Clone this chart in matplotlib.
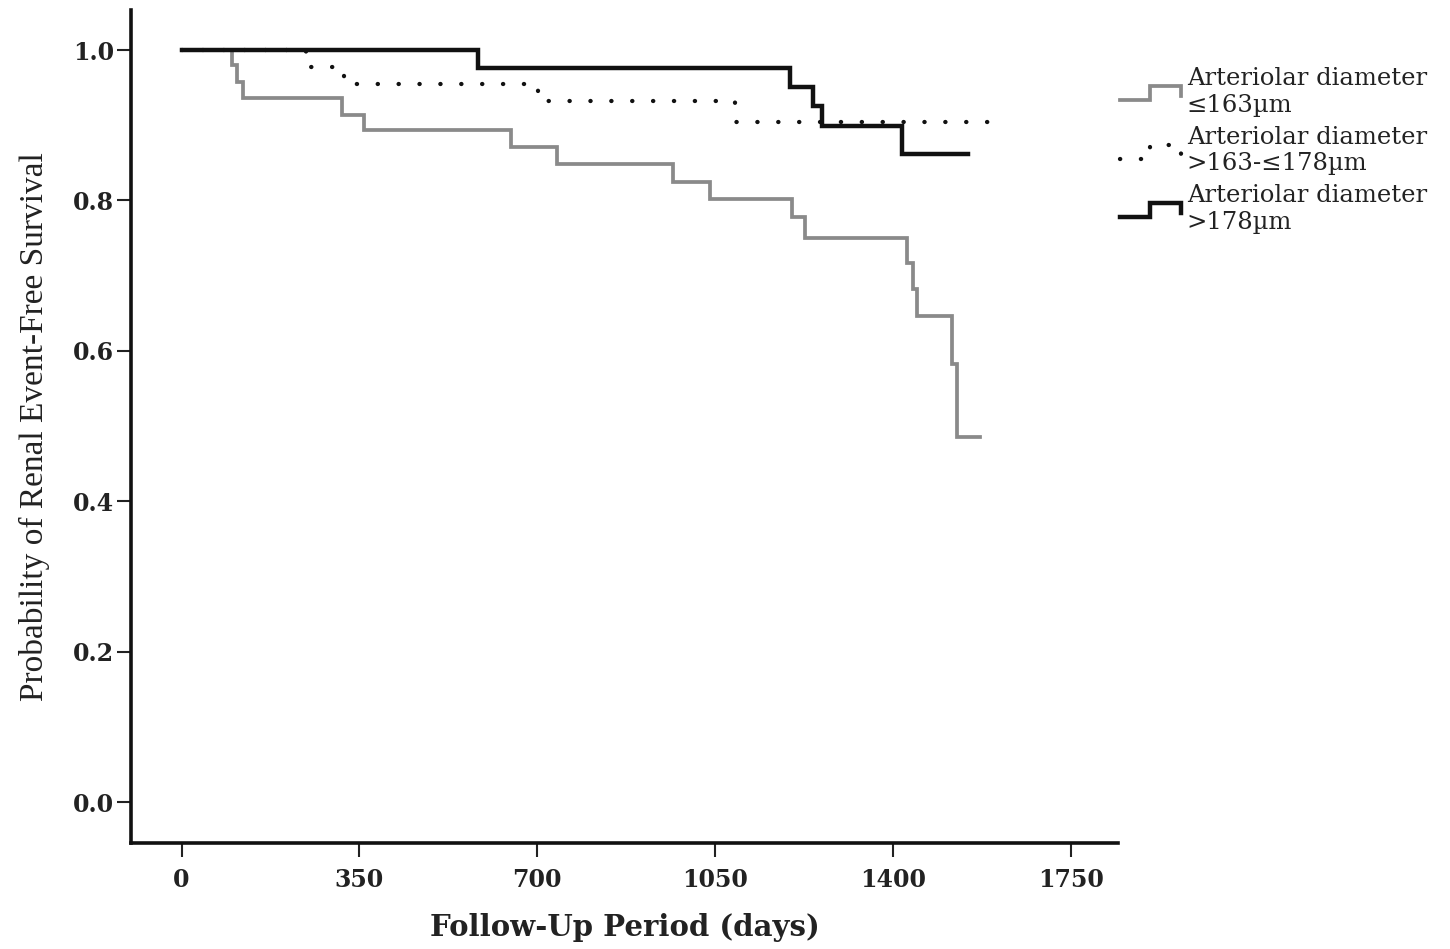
import matplotlib
matplotlib.use("Agg")
import matplotlib.pyplot as plt
from matplotlib.legend_handler import HandlerBase
from matplotlib.lines import Line2D

# ---- data ----
gray_days = [0, 99, 109, 121, 316, 359, 648, 739, 967, 1040, 1201, 1227,
             1427, 1439, 1447, 1516, 1525, 1571]
gray_surv = [1.0, 0.980, 0.957, 0.936, 0.914, 0.893, 0.871, 0.848, 0.825,
             0.802, 0.778, 0.750, 0.717, 0.682, 0.646, 0.582, 0.485, 0.485]

dotted_days = [0, 245, 320, 702, 1089, 1611]
dotted_surv = [1.0, 0.977, 0.955, 0.932, 0.904, 0.904]

black_days = [0, 584, 1197, 1243, 1260, 1418, 1548]
black_surv = [1.0, 0.976, 0.951, 0.926, 0.899, 0.862, 0.862]

labels = ["Arteriolar diameter\n\u2264163\u00b5m",
          "Arteriolar diameter\n>163-\u2264178\u00b5m",
          "Arteriolar diameter\n>178\u00b5m"]

x_ticks = [0, 350, 700, 1050, 1400, 1750]
y_ticks = [0.0, 0.2, 0.4, 0.6, 0.8, 1.0]

xlabel = "Follow-Up Period (days)"
ylabel = "Probability of Renal Event-Free Survival"

# ---- figure ----
W, H = 1450, 949
fig = plt.figure(figsize=(W / 100, H / 100), dpi=100)
ax = fig.add_axes([131 / W, 1 - 843 / H, (1118 - 131) / W, (843 - 10) / H])

gray_col = "#8a8a8a"
l1, = ax.step(gray_days, gray_surv, where="post", color=gray_col, lw=2.7,
              solid_joinstyle="miter", zorder=2)
l2, = ax.step(dotted_days, dotted_surv, where="post", color="#111111", lw=3.1,
              linestyle=(0, (0.05, 4.8)), dash_capstyle="round", zorder=3)
l3, = ax.step(black_days, black_surv, where="post", color="#111111", lw=3.2,
              solid_joinstyle="miter", zorder=4)

ax.set_xlim(-99.4, 1842.4)
ax.set_ylim(-0.0545, 1.0532)
ax.set_xticks(x_ticks)
ax.set_xticklabels([str(t) for t in x_ticks])
ax.set_yticks(y_ticks)
ax.set_yticklabels([f"{t:.1f}" for t in y_ticks])

for s in ["top", "right"]:
    ax.spines[s].set_visible(False)
for s in ["left", "bottom"]:
    ax.spines[s].set_linewidth(2.6)
    ax.spines[s].set_color("#111111")

ax.tick_params(axis="both", direction="out", length=10, width=1.5,
               color="#222222")
ax.tick_params(axis="x", pad=8)
ax.tick_params(axis="y", pad=2)
for lab in ax.get_xticklabels() + ax.get_yticklabels():
    lab.set_fontfamily(["DejaVu Serif"])
    lab.set_fontweight("bold")
    lab.set_fontsize(17)
    lab.set_color("#222222")

ax.set_xlabel(xlabel, family=["DejaVu Serif"], fontweight="bold",
              fontsize=21, color="#222222", labelpad=15)
ax.set_ylabel(ylabel, family=["Liberation Serif", "DejaVu Serif"],
              fontsize=24, color="#222222", labelpad=17)


class StepHandler(HandlerBase):
    def create_artists(self, legend, orig_handle, xdescent, ydescent,
                       width, height, fontsize, trans):
        fx = [0.0, 0.47, 0.47, 0.97, 0.97]
        fy = [0.05, 0.05, 0.85, 0.85, 0.3]
        xs = [-xdescent + f * width for f in fx]
        ys = [-ydescent + f * height for f in fy]
        line = Line2D(xs, ys)
        self.update_prop(line, orig_handle, legend)
        line.set_transform(trans)
        return [line]


leg = fig.legend([l1, l2, l3], labels, loc="upper left",
                 bbox_to_anchor=(1120 / W, 1 - 67 / H),
                 frameon=False, borderpad=0, borderaxespad=0,
                 handlelength=2.6, handletextpad=0.15, labelspacing=0.36,
                 prop={"family": ["DejaVu Serif"], "size": 17.5},
                 handler_map={Line2D: StepHandler()})
for t in leg.get_texts():
    t.set_color("#222222")
    t.set_linespacing(1.21)

fig.savefig("out.png", dpi=100)
